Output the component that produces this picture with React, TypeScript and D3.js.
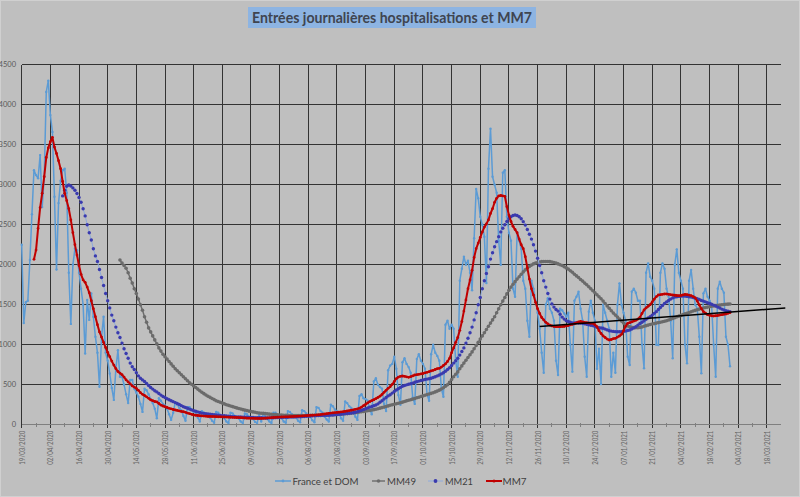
import React from 'react';
import * as d3 from 'd3';

// ---------- DATA ----------
const startLabel = '19/03/2020';
const axisEndLabel = '25/03/2021';

const xTickLabels = [
  '19/03/2020', '02/04/2020', '16/04/2020', '30/04/2020', '14/05/2020', '28/05/2020', '11/06/2020',
  '25/06/2020', '09/07/2020', '23/07/2020', '06/08/2020', '20/08/2020', '03/09/2020', '17/09/2020',
  '01/10/2020', '15/10/2020', '29/10/2020', '12/11/2020', '26/11/2020', '10/12/2020', '24/12/2020',
  '07/01/2021', '21/01/2021', '04/02/2021', '18/02/2021', '04/03/2021', '18/03/2021',
];
const yTickValues = [0, 500, 1000, 1500, 2000, 2500, 3000, 3500, 4000, 4500];

// France et DOM, daily admissions, one value per day from 19/03/2020
const franceDom = [
  2250, 1270, 1530, 1550,
  2060, 2630, 3180, 3120, 3080, 3370, 2720,
  3100, 4160, 4300, 3870, 3660, 2850, 1940,
  2770, 3050, 3180, 3200, 2900, 1900, 1260,
  2000, 2200, 2180, 1900, 1700, 1500, 890,
  1560, 1310, 1640, 1350, 1100, 900, 475,
  1100, 1350, 900, 800, 640, 460, 310,
  700, 930, 600, 600, 500, 380, 270,
  560, 560, 450, 400, 350, 260, 160,
  450, 430, 380, 320, 270, 200, 80,
  330, 300, 260, 240, 200, 130, 60,
  150, 280, 250, 210, 180, 110, 50,
  220, 220, 190, 160, 150, 90, 40,
  170, 150, 130, 110, 90, 50, 25,
  160, 150, 120, 100, 80, 40, 20,
  150, 140, 110, 90, 80, 40, 20,
  140, 130, 100, 80, 70, 35, 20,
  130, 40, 140, 100, 70, 40, 20,
  150, 150, 110, 100, 80, 40, 25,
  170, 160, 130, 110, 90, 50, 30,
  180, 170, 140, 120, 100, 55, 30,
  220, 210, 170, 150, 100, 65, 40,
  250, 230, 190, 170, 150, 80, 50,
  290, 270, 230, 210, 180, 100, 60,
  360, 380, 330, 320, 300, 190, 130,
  540, 580, 500, 470, 450, 260, 170,
  680, 740, 760, 850, 700, 370, 250,
  780, 830, 760, 720, 650, 340, 260,
  820, 880, 800, 760, 700, 380, 300,
  880, 1000, 900, 860, 800, 450, 350,
  1250, 1300, 1200, 1250, 1200, 800, 600,
  1800, 1950, 2100, 2000, 2050, 1900, 1680,
  2330, 2946, 2830, 2600, 2500, 2350, 1770,
  3200, 3700, 3100, 3000, 2900, 2300, 2000,
  3150, 3180, 2600, 2400, 2300, 1700, 1600,
  2400, 2300, 2200, 1800, 1700, 1300, 1100,
  1800, 1700, 1550, 1400, 1200, 900, 650,
  1500, 1580, 1450, 1400, 1300, 800, 621,
  1450, 1430, 1390, 1350, 1400, 1000, 663,
  1550, 1600, 1663, 1450, 1300, 850, 600,
  1413, 1550, 1400, 1300, 700, 950, 509,
  1500, 1400, 1300, 1200, 600, 900, 650,
  1500, 1767, 1500, 1400, 1300, 850, 746,
  1663, 1700, 1650, 1550, 1550, 1000, 705,
  1900, 2017, 1850, 1800, 1700, 1000, 996,
  1900, 2017, 1950, 1700, 1600, 1300, 830,
  2000, 2192, 1900, 1800, 1700, 1000, 767,
  1800, 1934, 1700, 1500, 1450, 1100, 642,
  1642, 1700, 1600, 1550, 1500, 1000, 600,
  1700, 1788, 1700, 1650, 1100, 1000, 730,
];

// MM7 from day 6 (25/03/2020)
const mm7Start = 6;
const mm7 = [
  2067, 2183, 2454, 2713, 2892, 3100, 3340, 3460, 3538, 3592,
  3470, 3390, 3300, 3200, 3040, 2892, 2800, 2700, 2560, 2400,
  2250, 2120, 1990, 1880, 1810, 1780, 1720, 1650, 1550, 1450,
  1350, 1250, 1160, 1095, 1030, 965, 905, 850, 795, 745,
  700, 665, 645, 625, 595, 560, 535, 510, 485, 470,
  454, 430, 400, 380, 365, 348, 330, 310, 300, 290,
  285, 265, 245, 234, 225, 215, 205, 198, 190, 184,
  178, 172, 166, 162, 155, 145, 138, 130, 121, 118,
  115, 112, 110, 108, 106, 104, 103, 102, 101, 100,
  99, 98, 97, 96, 95, 94, 93, 92, 91, 90,
  89, 88, 86, 84, 82, 81, 80, 80, 79, 79,
  78, 79, 80, 82, 84, 86, 88, 90, 92, 94,
  95, 96, 97, 98, 99, 100, 102, 104, 105, 106,
  108, 109, 111, 113, 115, 117, 118, 120, 121, 124,
  127, 131, 134, 138, 142, 145, 148, 151, 154, 157,
  160, 163, 167, 171, 176, 181, 186, 192, 198, 206,
  220, 238, 255, 272, 288, 300, 312, 325, 340, 357,
  378, 405, 430, 455, 475, 505, 540, 575, 595, 605,
  609, 605, 598, 592, 600, 610, 621, 625, 630, 635,
  640, 648, 655, 663, 672, 680, 690, 700, 705, 720,
  740, 760, 790, 830, 900, 960, 1030, 1090, 1180, 1290,
  1420, 1560, 1700, 1810, 1930, 2090, 2200, 2270, 2340, 2410,
  2470, 2510, 2560, 2640, 2700, 2780, 2830, 2860, 2865, 2860,
  2855, 2725, 2620, 2540, 2480, 2440, 2400, 2320, 2250, 2200,
  2100, 1960, 1820, 1700, 1620, 1530, 1450, 1390, 1340, 1310,
  1280, 1260, 1245, 1235, 1228, 1225, 1225, 1225, 1226, 1228,
  1235, 1240, 1248, 1254, 1262, 1272, 1285, 1290, 1285, 1278,
  1275, 1272, 1268, 1267, 1250, 1225, 1175, 1140, 1110, 1090,
  1070, 1059, 1065, 1075, 1080, 1095, 1109, 1130, 1175, 1230,
  1267, 1275, 1285, 1295, 1305, 1320, 1342, 1390, 1434, 1460,
  1480, 1500, 1535, 1570, 1600, 1621, 1625, 1630, 1634, 1634,
  1630, 1625, 1621, 1618, 1615, 1613, 1615, 1622, 1629, 1625,
  1620, 1613, 1600, 1585, 1545, 1496, 1450, 1413, 1395, 1375,
  1368, 1362, 1359, 1362, 1365, 1371, 1375, 1380, 1384, 1392,
  1400,
];

// MM21 from day 20 (08/04/2020)
const mm21Start = 20;
const mm21 = [
  2860, 2930, 2980, 2996, 2984, 2960, 2930, 2890, 2840, 2780,
  2700, 2610, 2500, 2400, 2309, 2200, 2110, 2040, 1940, 1840,
  1740, 1640, 1550, 1460, 1370, 1300, 1220, 1150, 1090, 1020,
  950, 890, 830, 770, 725, 690, 650, 610, 580, 560,
  540, 515, 490, 465, 445, 425, 410, 390, 370, 352,
  340, 325, 312, 300, 288, 276, 265, 252, 238, 225,
  215, 205, 195, 185, 176, 168, 160, 152, 145, 141,
  138, 135, 132, 128, 124, 121, 118, 116, 114, 112,
  110, 107, 104, 100, 99, 98, 97, 96, 95, 94,
  93, 92, 91, 90, 89, 88, 87, 86, 85, 84,
  84, 85, 86, 87, 88, 89, 90, 91, 92, 93,
  94, 95, 96, 97, 98, 99, 100, 101, 103, 105,
  107, 109, 111, 112, 113, 114, 115, 116, 117, 118,
  119, 120, 121, 123, 126, 129, 132, 135, 138, 140,
  142, 146, 150, 156, 163, 172, 180, 190, 200, 210,
  220, 228, 236, 246, 260, 280, 300, 320, 340, 360,
  375, 395, 415, 434, 450, 466, 480, 490, 498, 505,
  512, 520, 530, 538, 545, 552, 559, 565, 570, 575,
  580, 590, 600, 610, 621, 635, 650, 668, 690, 712,
  740, 770, 800, 830, 870, 915, 960, 1020, 1080, 1150,
  1220, 1310, 1400, 1500, 1590, 1700, 1800, 1890, 1975, 2070,
  2150, 2225, 2288, 2350, 2410, 2455, 2500, 2540, 2575, 2600,
  2615, 2621, 2615, 2600, 2575, 2538, 2495, 2440, 2380, 2320,
  2250, 2170, 2080, 1990, 1900, 1800, 1720, 1640, 1570, 1510,
  1470, 1440, 1420, 1380, 1345, 1320, 1300, 1290, 1280, 1272,
  1272, 1275, 1272, 1270, 1267, 1262, 1255, 1250, 1244, 1238,
  1228, 1217, 1212, 1208, 1205, 1195, 1185, 1175, 1170, 1166,
  1163, 1162, 1162, 1163, 1164, 1170, 1177, 1184, 1196, 1210,
  1225, 1245, 1265, 1280, 1300, 1318, 1335, 1350, 1370, 1392,
  1413, 1440, 1465, 1490, 1515, 1535, 1552, 1570, 1585, 1595,
  1600, 1604, 1607, 1609, 1607, 1604, 1600, 1595, 1590, 1582,
  1575, 1565, 1553, 1545, 1535, 1525, 1515, 1505, 1495, 1484,
  1470, 1458, 1445, 1435, 1426, 1418, 1413,
];

// MM49 from day 48 (06/05/2020)
const mm49Start = 48;
const mm49 = [
  2059, 2020, 1990, 1955, 1900, 1830, 1770, 1700, 1640, 1570,
  1500, 1430, 1350, 1280, 1210, 1160, 1110, 1060, 1010, 960,
  920, 880, 850, 820, 790, 760, 730, 700, 675, 650,
  625, 600, 575, 550, 525, 505, 485, 465, 445, 425,
  405, 388, 372, 356, 342, 328, 314, 300, 290, 280,
  270, 260, 250, 242, 234, 226, 218, 210, 203, 196,
  189, 182, 176, 170, 165, 160, 155, 150, 147, 144,
  141, 138, 135, 132, 130, 128, 126, 124, 122, 120,
  118, 117, 116, 115, 114, 113, 113, 113, 113, 113,
  113, 114, 115, 116, 117, 118, 119, 120, 121, 121,
  122, 122, 123, 124, 125, 127, 128, 130, 132, 134,
  136, 139, 142, 145, 148, 150, 154, 158, 162, 166,
  170, 174, 178, 183, 188, 194, 200, 207, 214, 220,
  228, 235, 243, 250, 256, 262, 268, 275, 282, 290,
  298, 305, 312, 320, 328, 336, 344, 352, 360, 368,
  376, 384, 392, 400, 410, 420, 432, 446, 462, 480,
  500, 530, 565, 600, 630, 660, 700, 735, 770, 805,
  840, 875, 910, 950, 990, 1030, 1070, 1110, 1150, 1190,
  1230, 1270, 1310, 1350, 1400, 1450, 1500, 1545, 1590, 1635,
  1680, 1720, 1755, 1788, 1820, 1850, 1880, 1910, 1935, 1960,
  1978, 1995, 2010, 2020, 2028, 2034, 2038, 2040, 2040, 2040,
  2038, 2034, 2028, 2020, 2010, 2000, 1990, 1975, 1960, 1945,
  1925, 1905, 1880, 1860, 1840, 1815, 1795, 1770, 1750, 1725,
  1700, 1675, 1650, 1625, 1600, 1575, 1545, 1515, 1485, 1455,
  1425, 1395, 1370, 1345, 1320, 1295, 1270, 1250, 1235, 1225,
  1218, 1213, 1212, 1213, 1216, 1222, 1230, 1238, 1245, 1252,
  1258, 1264, 1270, 1276, 1281, 1287, 1293, 1300, 1309, 1318,
  1328, 1338, 1348, 1357, 1366, 1376, 1386, 1394, 1403, 1412,
  1421, 1429, 1437, 1445, 1452, 1459, 1465, 1470, 1475, 1480,
  1484, 1488, 1492, 1496, 1499, 1502, 1505, 1507, 1509,
];

// Linear trend line (two ends: day index, value)
const trendDays = [253, 373];
const trendValues = [1228, 1459];

const titleText = 'Entrées journalières hospitalisations et MM7';
const legendNames = ['France et DOM', 'MM49', 'MM21', 'MM7'];

// ---------- CHART ----------
type P = { d: number; v: number };

export default function App() {
  const W = 800;
  const H = 497;
  const parse = d3.utcParse('%d/%m/%Y');
  const t0 = parse(startLabel) as Date;
  const tEnd = parse(axisEndLabel) as Date;

  const left = 21.7;
  const right = 781.2;
  const top = 64.7;
  const bottom = 424.7;

  const x = d3.scaleUtc().domain([t0, tEnd]).range([left, right]);
  const y = d3.scaleLinear().domain([0, 4500]).range([bottom, top]);
  const dayX = (d: number) => x(d3.utcDay.offset(t0, d));

  const toPts = (vals: number[], start: number): P[] => vals.map((v, k) => ({ d: start + k, v }));
  const line = d3.line<P>().x((p) => dayX(p.d)).y((p) => y(p.v));

  const daily = toPts(franceDom, 0);
  const s7 = toPts(mm7, mm7Start);
  const s21 = toPts(mm21, mm21Start);
  const s49 = toPts(mm49, mm49Start);
  const trend: P[] = trendDays.map((d, i) => ({ d, v: trendValues[i] }));

  const tickDates = xTickLabels.map((l) => parse(l) as Date);
  const minorDates = tickDates.map((t) => d3.utcDay.offset(t, 7)).filter((t) => x(t) < right);

  const font = 'Lato, "Open Sans", "DejaVu Sans", sans-serif';
  const gridColor = '#333333';
  const cBlue = '#5B9BD5';
  const cGrey = '#6B6B6B';
  const cNavy = '#3A3AAE';
  const cNavyLine = '#8FAADC';
  const cRed = '#C00000';

  const legendY = 481;

  return (
    <svg
      width={W}
      height={H}
      viewBox={`0 0 ${W} ${H}`}
      style={{ position: 'absolute', left: 0, top: 0, display: 'block' }}
      fontFamily={font}
    >
      <rect x={0} y={0} width={W} height={H} fill="#BFBFBF" />
      <rect x={0.5} y={0.5} width={W - 1} height={H - 1} fill="none" stroke="#D0D0D0" />

      {/* title */}
      <rect x={248} y={7} width={288} height={21} fill="#8DB4E2" />
      <text
        x={392}
        y={23}
        textAnchor="middle"
        fontSize={14.5}
        fontWeight={700}
        fill="#3F4550"
        textLength={280}
        lengthAdjust="spacingAndGlyphs"
      >
        {titleText}
      </text>

      {/* gridlines and axis */}
      <g shapeRendering="crispEdges">
        {yTickValues.map((v) => (
          <line key={'h' + v} x1={left} x2={right} y1={y(v)} y2={y(v)} stroke={gridColor} strokeWidth={1} />
        ))}
        {tickDates.map((t, i) => (
          <line key={'v' + i} x1={x(t)} x2={x(t)} y1={top} y2={bottom + 3.5} stroke={gridColor} strokeWidth={1} />
        ))}
        <line x1={left} x2={right} y1={bottom} y2={bottom} stroke="#7F7F7F" strokeWidth={1} />
        {minorDates.map((t, i) => (
          <line key={'m' + i} x1={x(t)} x2={x(t)} y1={bottom - 2} y2={bottom + 2.5} stroke="#7F7F7F" strokeWidth={1} />
        ))}
      </g>

      {/* y labels */}
      {yTickValues.map((v) => (
        <text key={'yl' + v} x={16} y={y(v) + 2.6} textAnchor="end" fontSize={7.5} fill="#595959">
          {v}
        </text>
      ))}

      {/* x labels */}
      {tickDates.map((t, i) => (
        <text
          key={'xl' + i}
          transform={`translate(${x(t)},${bottom + 6}) rotate(-90)`}
          textAnchor="end"
          dominantBaseline="central"
          fontSize={7}
          fill="#636363"
          textLength={34}
          lengthAdjust="spacingAndGlyphs"
        >
          {xTickLabels[i]}
        </text>
      ))}

      {/* France et DOM */}
      <path d={line(daily) || ''} fill="none" stroke={cBlue} strokeWidth={1.5} strokeLinejoin="round" />
      {daily.map((p, i) => (
        <circle key={'b' + i} cx={dayX(p.d)} cy={y(p.v)} r={1.2} fill={cBlue} />
      ))}

      {/* MM49 */}
      <path d={line(s49) || ''} fill="none" stroke={cGrey} strokeWidth={1.4} />
      {s49.map((p, i) => (
        <circle key={'g' + i} cx={dayX(p.d)} cy={y(p.v)} r={1.8} fill={cGrey} />
      ))}

      {/* MM21 */}
      <path d={line(s21) || ''} fill="none" stroke={cNavyLine} strokeWidth={1} />
      {s21.map((p, i) => (
        <circle key={'n' + i} cx={dayX(p.d)} cy={y(p.v)} r={1.7} fill={cNavy} />
      ))}

      {/* MM7 */}
      <path d={line(s7) || ''} fill="none" stroke={cRed} strokeWidth={2} strokeLinejoin="round" />
      {s7.map((p, i) => (
        <circle key={'r' + i} cx={dayX(p.d)} cy={y(p.v)} r={1.4} fill={cRed} />
      ))}

      {/* trend line */}
      <path d={line(trend) || ''} fill="none" stroke="#000000" strokeWidth={1.5} />

      {/* legend */}
      <g fontSize={10} fill="#404040">
        <line x1={275} x2={291} y1={legendY} y2={legendY} stroke={cBlue} strokeWidth={1.5} />
        <circle cx={283} cy={legendY} r={1.4} fill={cBlue} />
        <text x={292.5} y={legendY + 3.5} textLength={66} lengthAdjust="spacingAndGlyphs">{legendNames[0]}</text>

        <line x1={372} x2={385} y1={legendY} y2={legendY} stroke={cGrey} strokeWidth={1.4} />
        <circle cx={378.5} cy={legendY} r={1.8} fill={cGrey} />
        <text x={387} y={legendY + 3.5} textLength={29} lengthAdjust="spacingAndGlyphs">{legendNames[1]}</text>

        <line x1={428} x2={443} y1={legendY} y2={legendY} stroke={cNavyLine} strokeWidth={1} />
        <circle cx={435.5} cy={legendY} r={1.9} fill={cNavy} />
        <text x={445} y={legendY + 3.5} textLength={28} lengthAdjust="spacingAndGlyphs">{legendNames[2]}</text>

        <line x1={486} x2={502} y1={legendY} y2={legendY} stroke={cRed} strokeWidth={2} />
        <circle cx={494} cy={legendY} r={1.5} fill={cRed} />
        <text x={502.5} y={legendY + 3.5} textLength={24} lengthAdjust="spacingAndGlyphs">{legendNames[3]}</text>
      </g>
    </svg>
  );
}
